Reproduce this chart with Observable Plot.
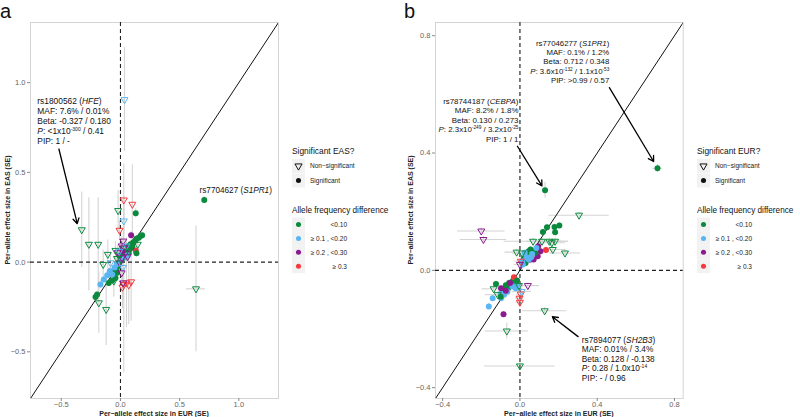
<!DOCTYPE html>
<html><head><meta charset="utf-8">
<script src="https://cdn.jsdelivr.net/npm/d3@7"></script>
<script src="https://cdn.jsdelivr.net/npm/@observablehq/plot@0.6"></script>
<style>
body{margin:0;background:#fff;font-family:"Liberation Sans",Arial,Helvetica,sans-serif;}
#wrap{position:relative;width:800px;height:417px;overflow:hidden;}
</style></head><body><div id="wrap"></div><script>
// ---------- shared categories ----------
const freqLabels = ["<0.10", "≥ 0.1 , <0.20", "≥ 0.2 , <0.30", "≥ 0.3"];
const freqColors = ["#0b8a3e", "#5ab6f2", "#8b1a8e", "#f43a3c"];
const sigLabels = ["Non−significant", "Significant"];

// ---------- panel a (EUR vs EAS, significance in EAS) ----------
const aDomain = [-0.76, 1.335];
const aTicks = [-0.5, 0, 0.5, 1.0];
const aEUR   = [0.708,0.129,0.09,0.183,0.169,0.155,0.135,0.126,0.11,0.129,0.093,0.135,0.10,0.08,0.06,0.07,0.05,0.04,0.03,0.02,0.06,0.045,0.01,-0.01,-0.02,-0.03,-0.028,-0.056,-0.042,-0.07,-0.099,-0.197,-0.211,-0.07,-0.112,-0.141,-0.169,-0.09,-0.07,-0.05,-0.03,0.0,0.02,0.07,0.085,-0.01,
  0.034,0.028,0.10,-0.02,-0.327,-0.267,-0.188,0.028,-0.008,0.023,0.146,0.023,-0.107,-0.042,-0.023,0.014,-0.006,-0.146,-0.084,-0.183,-0.121,-0.056,0.028,0.051,0.07,0.09,0.017,0.023,0.638,0.04,0.06,0.03,0.01,-0.01,0.05,0.02,-0.03,0.07,0.01];
const aEAS   = [0.346,0.272,0.149,0.149,0.145,0.136,0.13,0.121,0.11,0.065,0.08,0.049,0.09,0.075,0.07,0.05,0.06,0.04,0.05,0.03,0.04,0.025,0.01,0.0,-0.02,-0.03,-0.06,-0.05,-0.088,-0.102,-0.116,-0.181,-0.194,-0.06,-0.073,-0.097,-0.125,-0.05,-0.069,-0.03,-0.01,0.02,0.06,0.09,0.1,0.035,
  0.905,0.346,0.322,0.287,0.180,0.099,0.099,0.229,0.177,0.117,0.099,0.077,0.043,0.065,0.052,0.024,-0.004,-0.013,-0.004,-0.227,-0.264,-0.106,-0.125,-0.116,-0.128,-0.11,-0.14,-0.116,-0.149,0.05,0.03,0.08,0.09,0.06,0.09,-0.03,0.02,0.06,-0.06];
const aEURse = [0.015,0.01,0.01,0.01,0.01,0.01,0.01,0.01,0.01,0.01,0.01,0.01,0.01,0.01,0.01,0.01,0.01,0.01,0.01,0.01,0.01,0.01,0.01,0.01,0.01,0.01,0.01,0.01,0.01,0.01,0.01,0.01,0.01,0.01,0.01,0.01,0.01,0.01,0.01,0.01,0.01,0.01,0.01,0.01,0.01,0.01,
  0.01,0.01,0.01,0.01,0.01,0.01,0.01,0.01,0.01,0.01,0.01,0.01,0.01,0.01,0.01,0.01,0.01,0.01,0.01,0.01,0.01,0.01,0.01,0.01,0.01,0.01,0.01,0.01,0.08,0.01,0.01,0.01,0.01,0.01,0.01,0.01,0.01,0.01,0.01];
const aEASse = [0.02,0.025,0.02,0.02,0.02,0.02,0.02,0.02,0.02,0.02,0.02,0.02,0.02,0.02,0.02,0.02,0.02,0.02,0.02,0.02,0.02,0.02,0.02,0.02,0.02,0.02,0.02,0.02,0.02,0.02,0.02,0.02,0.02,0.02,0.02,0.02,0.02,0.02,0.02,0.02,0.02,0.02,0.02,0.02,0.02,0.02,
  0.29,0.2,0.22,0.11,0.21,0.26,0.26,0.07,0.05,0.05,0.05,0.04,0.08,0.05,0.04,0.04,0.04,0.08,0.05,0.17,0.2,0.09,0.49,0.25,0.22,0.22,0.12,0.1,0.35,0.03,0.03,0.04,0.05,0.04,0.04,0.05,0.04,0.04,0.06];
const aSig   = [1,1,1,1,1,1,1,1,1,1,1,1,1,1,1,1,1,1,1,1,1,1,1,1,1,1,1,1,1,1,1,1,1,1,1,1,1,1,1,1,1,1,1,1,1,1,
  0,0,0,0,0,0,0,0,0,0,0,0,0,0,0,0,0,0,0,0,0,0,0,0,0,0,0,0,0,0,0,0,0,0,0,0,0,0,0];
const aFreq  = [0,0,2,0,0,0,0,0,0,3,2,0,0,0,0,0,0,0,0,0,1,1,0,0,0,0,0,0,0,0,0,0,0,0,1,1,1,1,1,1,1,1,2,0,0,0,
  1,3,3,0,0,0,0,1,3,2,0,0,0,0,2,2,2,0,1,0,0,0,3,3,3,3,3,2,0,2,2,2,2,1,1,1,0,0,2];

// ---------- panel b (EUR vs EAS, significance in EUR) ----------
const bDomain = [-0.437, 0.845];
const bTicks = [-0.4, 0, 0.4, 0.8];
const bEUR   = [0.712,0.130,0.204,0.179,0.14,0.182,0.119,0.135,0.094,0.092,0.071,0.106,0.051,0.055,0.038,0.02,0.068,0.029,0.08,0.045,0.085,0.063,0.012,0.046,0.034,0.025,0.058,0.015,
  -0.124,-0.141,-0.161,-0.085,-0.073,-0.056,-0.039,-0.031,-0.061,-0.082,-0.047,-0.09,-0.022,-0.098,-0.082,-0.098,-0.039,-0.013,-0.022,-0.065,-0.098,-0.073,-0.051,-0.031,-0.015,-0.1,
  0.128,0.306,-0.2,-0.189,0.068,0.114,0.152,0.182,0.165,0.233,0.17,-0.017,0.012,0.004,0.0,-0.136,-0.115,-0.068,0.0,-0.002,0.0,0.004,0.009,0.041,-0.005];
const bEAS   = [0.348,0.273,0.153,0.148,0.147,0.13,0.131,0.069,0.082,0.048,0.037,0.065,0.036,0.071,0.054,0.04,0.065,0.025,0.06,0.065,0.076,0.056,0.031,0.037,0.045,0.06,0.045,0.02,
  -0.047,-0.095,-0.123,-0.15,-0.051,-0.043,-0.038,-0.028,-0.061,-0.066,-0.049,-0.078,-0.043,-0.078,-0.083,-0.095,-0.055,-0.049,-0.061,-0.072,-0.061,-0.07,-0.043,-0.024,-0.035,-0.09,
  -0.138,0.188,0.134,0.105,0.099,0.099,0.099,0.099,0.094,0.059,0.071,0.062,0.059,0.031,0.02,-0.063,-0.083,-0.207,-0.326,-0.095,-0.109,-0.081,-0.072,-0.052,-0.052];
const bEURse = [0.024,0.01,0.01,0.01,0.01,0.01,0.01,0.01,0.01,0.01,0.01,0.01,0.01,0.01,0.01,0.01,0.01,0.01,0.01,0.01,0.01,0.01,0.01,0.01,0.01,0.01,0.01,0.01,
  0.01,0.01,0.01,0.01,0.01,0.01,0.01,0.01,0.01,0.01,0.01,0.01,0.01,0.01,0.01,0.01,0.01,0.01,0.01,0.01,0.01,0.01,0.01,0.01,0.01,0.01,
  0.114,0.156,0.123,0.12,0.15,0.08,0.1,0.07,0.07,0.08,0.07,0.06,0.05,0.03,0.03,0.06,0.064,0.112,0.183,0.02,0.02,0.02,0.05,0.06,0.045];
const bEASse = [0.014,0.027,0.01,0.01,0.01,0.01,0.01,0.01,0.01,0.01,0.01,0.01,0.01,0.01,0.01,0.01,0.01,0.01,0.01,0.01,0.01,0.01,0.01,0.01,0.01,0.01,0.01,0.01,
  0.01,0.01,0.01,0.01,0.01,0.01,0.01,0.01,0.01,0.01,0.01,0.01,0.01,0.01,0.01,0.01,0.01,0.01,0.01,0.01,0.01,0.01,0.01,0.01,0.01,0.01,
  0.01,0.01,0.01,0.01,0.01,0.01,0.01,0.01,0.01,0.01,0.01,0.01,0.01,0.01,0.01,0.01,0.01,0.027,0.01,0.01,0.01,0.01,0.01,0.01,0.01];
const bSig   = [1,1,1,1,1,1,1,1,1,1,1,1,1,1,1,1,1,1,1,1,1,1,1,1,1,1,1,1,
  1,1,1,1,1,1,1,1,1,1,1,1,1,1,1,1,1,1,1,1,1,1,1,1,1,1,
  0,0,0,0,0,0,0,0,0,0,0,0,0,0,0,0,0,0,0,0,0,0,0,0,0];
const bFreq  = [0,0,0,0,0,0,0,3,2,2,2,2,2,0,0,0,0,0,0,0,1,1,1,1,1,1,1,1,
  0,1,1,2,0,0,0,0,0,0,0,0,0,1,1,1,1,1,1,1,2,2,2,3,0,0,
  0,0,2,2,0,0,0,0,0,0,0,0,0,3,2,0,0,0,0,3,3,3,1,2,0];

// ---------- annotations (data coordinates) ----------
const aArrows = [{x1:-0.52, y1:0.63, x2:-0.365, y2:0.214}];
const bArrows = [
  {x1:0.463, y1:0.623, x2:0.692, y2:0.371},
  {x1:-0.013, y1:0.423, x2:0.114, y2:0.288},
  {x1:0.301, y1:-0.226, x2:0.168, y2:-0.158}
];
const aNotes = [
  {x:-0.698, y:0.894, anchor:"start", size:8.4, lh:10, lines:[
    ["rs1800562 (", ["HFE","i"], ")"],
    ["MAF: 7.6% / 0.01%"],
    ["Beta: -0.327 / 0.180"],
    [["P","i"], ": <1x10", ["-300","s"], " / 0.41"],
    ["PIP: 1 / -"]]},
  {x:0.978, y:0.397, anchor:"middle", size:8.2, lh:10, lines:[
    ["rs7704627 (", ["S1PR1","i"], ")"]]}
];
const bNotes = [
  {x:0.465, y:0.774, anchor:"end", size:7.8, lh:9.4, lines:[
    ["rs77046277 (", ["S1PR1","i"], ")"],
    ["MAF: 0.1% / 1.2%"],
    ["Beta: 0.712 / 0.348"],
    [["P","i"], ": 3.6x10", ["-132","s"], " / 1.1x10", ["-53","s"]],
    ["PIP: >0.99 / 0.57"]]},
  {x:-0.005, y:0.576, anchor:"end", size:7.9, lh:9.5, lines:[
    ["rs78744187 (", ["CEBPA","i"], ")"],
    ["MAF: 8.2% / 1.8%"],
    ["Beta: 0.130 / 0.273"],
    [["P","i"], ": 2.3x10", ["-249","s"], " / 3.2x10", ["-25","s"]],
    ["PIP: 1 / 1"]]},
  {x:0.323, y:-0.238, anchor:"start", size:8.3, lh:9.5, lines:[
    ["rs7894077 (", ["SH2B3","i"], ")"],
    ["MAF: 0.01% / 3.4%"],
    ["Beta: 0.128 / -0.138"],
    [["P","i"], ": 0.28 / 1.0x10", ["-14","s"]],
    ["PIP: - / 0.96"]]}
];

function richText(g, px, py, note) {
  const {anchor, size, lh, lines} = note;
  const t = g.append("text").attr("font-size", size).attr("text-anchor", anchor).attr("fill", "#111");
  lines.forEach((line, i) => {
    const base = py + i * lh + size * 0.36;
    let shift = 0, first = true;
    for (const seg of line) {
      const [s, st] = typeof seg === "string" ? [seg, ""] : seg;
      const want = st === "s" ? -size * 0.38 : 0;
      const ts = t.append("tspan").text(s);
      if (first) { ts.attr("x", px).attr("y", base + want); first = false; }
      else if (want !== shift) ts.attr("dy", want - shift);
      shift = want;
      if (st === "s") ts.attr("font-size", size * 0.6);
      if (st === "i") ts.attr("font-style", "italic");
    }
  });
}

function makePanel(cfg) {
  const data = cfg.x.map((x, i) => ({x, y: cfg.y[i], xe: cfg.xe[i], ye: cfg.ye[i], sig: cfg.sig[i] === 1, f: freqLabels[cfg.f[i]]}));
  const dom = cfg.domain;
  const fmt = d3.format(".1f");
  const plot = Plot.plot({
    width: 400, height: 417,
    marginLeft: cfg.ml, marginRight: cfg.mr, marginTop: 22, marginBottom: 19,
    style: {fontFamily: "Liberation Sans, Arial, sans-serif", fontSize: "7.5px", color: "#666", background: "transparent",
            position: "absolute", left: cfg.left + "px", top: "0px", overflow: "visible"},
    x: {domain: dom, label: null},
    y: {domain: dom, label: null},
    color: {domain: freqLabels, range: freqColors},
    marks: [
      Plot.frame({stroke: "#d4d4d4", strokeWidth: 1}),
      Plot.ruleX(data, {x: "x", y1: d => d.y - d.ye, y2: d => d.y + d.ye, stroke: "#d4d4d4", strokeWidth: 1.1, clip: true}),
      Plot.ruleY(data, {y: "y", x1: d => d.x - d.xe, x2: d => d.x + d.xe, stroke: "#d4d4d4", strokeWidth: 1.1, clip: true}),
      Plot.ruleX([0], {stroke: cfg.dashColor, strokeDasharray: "4,3", strokeWidth: cfg.dashW}),
      Plot.ruleY([0], {stroke: "#222", strokeDasharray: "4,3", strokeWidth: 1.1}),
      Plot.line(dom, {x: d => d, y: d => d, stroke: "#111", strokeWidth: 1, clip: true}),
      Plot.dot(data.filter(d => d.sig), {x: "x", y: "y", r: 3, fill: "f"}),
      Plot.dot(data.filter(d => !d.sig), {x: "x", y: "y", symbol: "triangle", rotate: 180, r: 2.6, stroke: "f", fill: "none", strokeWidth: 1}),
      Plot.arrow(cfg.arrows, {x1: "x1", y1: "y1", x2: "x2", y2: "y2", stroke: "#000", strokeWidth: 1.3, headLength: 7}),
      Plot.axisX(cfg.ticks, {tickSize: 3, tickPadding: 0, tickFormat: fmt, label: null, stroke: "#888"}),
      Plot.axisY(cfg.ticks, {tickSize: 3, tickPadding: 2, tickFormat: fmt, label: null, stroke: "#888"})
    ]
  });
  const svg = d3.select(plot);
  const sx = plot.scale("x"), sy = plot.scale("y");
  const g = svg.append("g").attr("font-family", "Liberation Sans, Arial, sans-serif").attr("text-anchor", "start");
  cfg.notes.forEach(n => richText(g, sx.apply(n.x), sy.apply(n.y), n));
  // panel letter
  g.append("text").attr("x", cfg.letterX).attr("y", 18).attr("text-anchor", "start").attr("font-size", 20).attr("fill", "#111").text(cfg.letter);
  // axis titles
  const cx = (cfg.ml + 400 - cfg.mr) / 2;
  g.append("text").attr("x", cx).attr("y", 415.5).attr("text-anchor", "middle").attr("font-size", 7)
    .attr("font-weight", "bold").attr("fill", "#222").text("Per−allele effect size in EUR (SE)");
  g.append("text").attr("transform", `translate(${cfg.ytx},210) rotate(-90)`).attr("text-anchor", "middle")
    .attr("dominant-baseline", "central").attr("font-size", 7).attr("font-weight", "bold").attr("fill", "#222")
    .text("Per−allele effect size in EAS (SE)");
  // legend
  const L = g.append("g").attr("transform", `translate(${cfg.legX},0)`).attr("text-anchor", "start");
  L.append("text").attr("x", 0).attr("y", 154).attr("font-size", 8.4).attr("fill", "#111").text(cfg.legTitle);
  const symTri = d3.symbol(d3.symbolTriangle, 22)();
  const symDot = d3.symbol(d3.symbolCircle, 20)();
  sigLabels.forEach((lab, i) => {
    const yy = 166 + i * 14.5;
    L.append("rect").attr("x", 0).attr("y", yy - 7).attr("width", 13).attr("height", 14).attr("fill", "#f2f2f2");
    if (i === 0) L.append("path").attr("d", symTri).attr("transform", `translate(6.5,${yy}) rotate(180)`).attr("fill", "none").attr("stroke", "#111").attr("stroke-width", 1);
    else L.append("path").attr("d", symDot).attr("transform", `translate(6.5,${yy})`).attr("fill", "#111");
    L.append("text").attr("x", 18).attr("y", yy + 2.3).attr("font-size", 6.5).attr("fill", "#222").text(lab);
  });
  L.append("text").attr("x", 0).attr("y", 212.5).attr("font-size", 8.2).attr("fill", "#111").text("Allele frequency difference");
  freqLabels.forEach((lab, i) => {
    const yy = 224.5 + i * 13.9;
    L.append("rect").attr("x", 0).attr("y", yy - 7).attr("width", 13).attr("height", 14).attr("fill", "#f2f2f2");
    L.append("path").attr("d", symDot).attr("transform", `translate(6.5,${yy})`).attr("fill", freqColors[i]);
    L.append("text").attr("x", 55).attr("y", yy + 2.3).attr("text-anchor", "end").attr("font-size", 6.5).attr("fill", "#222").text(lab);
  });
  return plot;
}

const wrap = document.getElementById("wrap");
wrap.appendChild(makePanel({
  x: aEUR, y: aEAS, xe: aEURse, ye: aEASse, sig: aSig, f: aFreq,
  domain: aDomain, ticks: aTicks, ml: 30, mr: 122, left: 0,
  arrows: aArrows, notes: aNotes, letter: "a", letterX: 0, ytx: 7, dashColor: "#222", dashW: 1.1,
  legX: 292, legTitle: "Significant EAS?"
}));
wrap.appendChild(makePanel({
  x: bEUR, y: bEAS, xe: bEURse, ye: bEASse, sig: bSig, f: bFreq,
  domain: bDomain, ticks: bTicks, ml: 35, mr: 117.3, left: 400,
  arrows: bArrows, notes: bNotes, letter: "b", letterX: 4, ytx: 10, dashColor: "#555", dashW: 1.5,
  legX: 297, legTitle: "Significant EUR?"
}));
</script></body></html>
